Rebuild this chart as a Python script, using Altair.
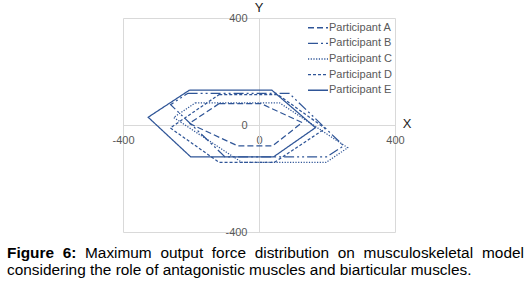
import altair as alt
import pandas as pd

participants = ["Participant A", "Participant B", "Participant C", "Participant D", "Participant E"]

# hexagon vertices (x, y)
a_x = [-117, 6, 127, 40, -63, -205]
a_y = [80, 80, 9, -78, -78, 6]
b_x = [-210, 89, 249, 199, -100, -260]
b_y = [118, 118, -78, -119, -119, 76]
c_x = [-187, 60, 261, 197, -50, -251]
c_y = [83, 83, -85, -140, -140, 28]
d_x = [-117, 55, 195, 45, -117, -261]
d_y = [114, 114, -13, -140, -140, -11]
e_x = [-205, 38, 166, 43, -201, -326]
e_y = [130, 130, -10, -119, -119, 29]

tick_values = [-400, 0, 400]

caption_line1 = ["Figure", "6:", "Maximum", "output", "force", "distribution", "on", "musculoskeletal", "model"]
caption_line2 = "considering the role of antagonistic muscles and biarticular muscles."

COLOR = "#2F5597"
GRAY = "#595959"
FONT = "Liberation Sans"

rows = []
for p, xv, yv in zip(participants, [a_x, b_x, c_x, d_x, e_x], [a_y, b_y, c_y, d_y, e_y]):
    pts = list(zip(xv, yv))
    pts.append(pts[0])
    for i, (x, y) in enumerate(pts):
        rows.append({"participant": p, "x": x, "y": y, "order": i})
df = pd.DataFrame(rows)

W, H = 272, 214
dash_range = [[6, 3], [10, 3, 2, 3, 2, 3], [1.2, 1.5], [3, 2], [1, 0]]
dash_scale = alt.Scale(domain=participants, range=dash_range)

lines = alt.Chart(df).mark_line(strokeWidth=1.25, color=COLOR).encode(
    x=alt.X("x:Q", scale=alt.Scale(domain=[-400, 400], nice=False, zero=False),
            axis=alt.Axis(values=tick_values, offset=-H / 2, domainColor="#d9d9d9", domainWidth=1,
                          ticks=False, grid=False, labelColor=GRAY, labelFontSize=11, labelFont=FONT,
                          labelPadding=9, labelFlush=False, labelOverlap=False, title=None,
                          labelExpr="'' + datum.value")),
    y=alt.Y("y:Q", scale=alt.Scale(domain=[-400, 400], nice=False, zero=False),
            axis=alt.Axis(values=tick_values, offset=-W / 2, domainColor="#d9d9d9", domainWidth=1,
                          ticks=False, grid=False, labelColor=GRAY, labelFontSize=11, labelFont=FONT,
                          labelPadding=12, labelFlush=False, labelOverlap=False, title=None,
                          labelExpr="'' + datum.value")),
    order="order:Q",
    strokeDash=alt.StrokeDash("participant:N", scale=dash_scale, legend=None),
)

# manual legend (layout positions relative to plot origin)
leg = pd.DataFrame({"participant": participants,
                    "ly": [9.7 + i * 15.65 for i in range(len(participants))]})

leg_rules = alt.Chart(leg).mark_rule(strokeWidth=1.4, color=COLOR).encode(
    x=alt.value(185), x2=alt.value(205),
    y=alt.Y("ly:Q", scale=None),
    strokeDash=alt.StrokeDash("participant:N", scale=dash_scale, legend=None),
)
leg_text = alt.Chart(leg).mark_text(
    font=FONT, fontSize=11, color=GRAY, align="left", baseline="middle"
).encode(x=alt.value(206), y=alt.Y("ly:Q", scale=None), text="participant:N")

x_title = alt.Chart(pd.DataFrame({"t": ["X"]})).mark_text(
    font=FONT, fontSize=13, color="#222222", align="center", baseline="middle"
).encode(x=alt.value(W + 12), y=alt.value(H / 2 - 1), text="t:N")

y_title = alt.Chart(pd.DataFrame({"t": ["Y"]})).mark_text(
    font=FONT, fontSize=13, color="#222222", align="center", baseline="middle"
).encode(x=alt.value(W / 2), y=alt.value(-10), text="t:N")

# caption layout (justified first line; pixel positions relative to plot origin)
cap_x1 = [7, 62.7, 85.0, 160.4, 211.8, 254.7, 337.8, 363.6, 482.0]
cap = pd.DataFrame({
    "word": caption_line1 + [caption_line2],
    "px": [v - 123 for v in cap_x1] + [7 - 123],
    "py": [239.5] * len(caption_line1) + [257],
    "bold": ["b", "b"] + ["n"] * (len(caption_line1) - 2) + ["n"],
})

cap_bold = alt.Chart(cap[cap.bold == "b"]).mark_text(
    font=FONT, fontSize=15.4, fontWeight="bold", color="#000000", align="left", baseline="alphabetic"
).encode(x=alt.X("px:Q", scale=None), y=alt.Y("py:Q", scale=None), text="word:N")

cap_norm = alt.Chart(cap[cap.bold == "n"]).mark_text(
    font=FONT, fontSize=15.4, color="#000000", align="left", baseline="alphabetic"
).encode(x=alt.X("px:Q", scale=None), y=alt.Y("py:Q", scale=None), text="word:N")

chart = alt.layer(lines, leg_rules, leg_text, x_title, y_title, cap_bold, cap_norm).properties(
    width=W, height=H,
    autosize=alt.AutoSizeParams(type="none"),
    padding={"left": 123, "top": 18, "right": 529 - 123 - W, "bottom": 284 - 18 - H},
    background="white",
).configure_view(stroke="#d9d9d9", strokeWidth=1)

chart.save("out.html", embed_options={"renderer": "svg", "actions": False})
